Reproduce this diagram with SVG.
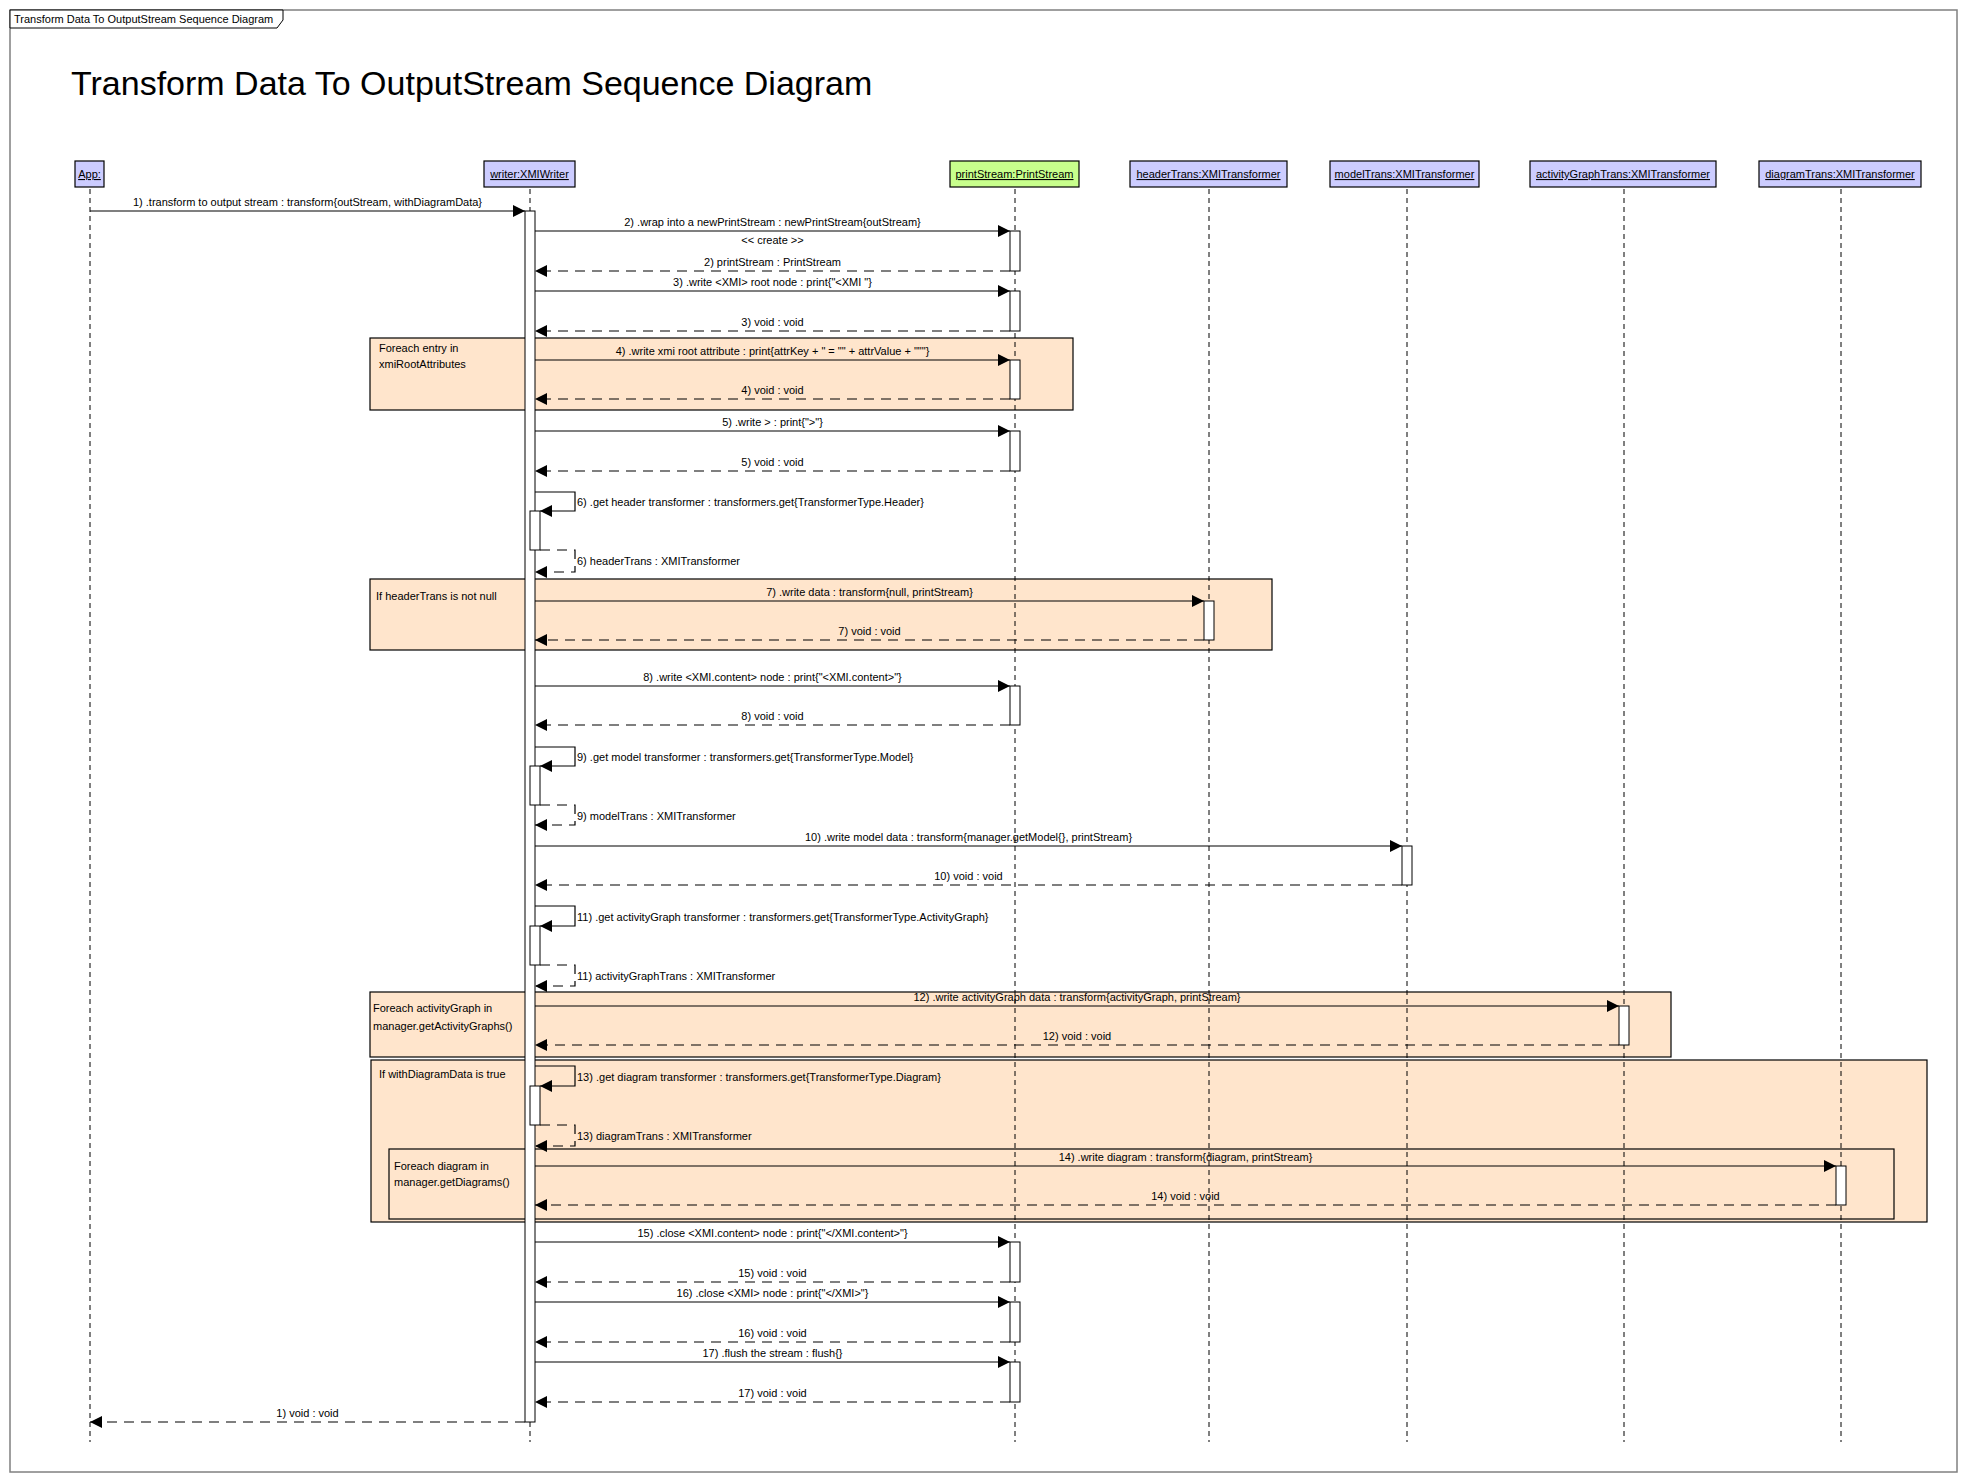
<svg xmlns="http://www.w3.org/2000/svg" width="1968" height="1482" viewBox="0 0 1968 1482">
<style>
text{font-family:"Liberation Sans",Arial,sans-serif;font-size:11px;fill:#000}
.title{font-size:34px}
.hdr{text-anchor:middle;text-decoration:underline}
.mid{text-anchor:middle}
.box{fill:#ccccff;stroke:#000;stroke-width:1.2}
.green{fill:#c8ff8c}
.life{stroke:#000;stroke-width:1;stroke-dasharray:5,4;fill:none}
.act{fill:#fff;stroke:#000;stroke-width:1}
.frag{fill:#ffe5cc;stroke:#000;stroke-width:1.2}
.msg{stroke:#000;stroke-width:1.2;fill:none;marker-end:url(#ah)}
.ret{stroke:#000;stroke-width:1.2;fill:none;stroke-dasharray:10,7;marker-end:url(#ah)}
</style>
<defs>
<marker id="ah" markerUnits="userSpaceOnUse" markerWidth="12" markerHeight="12" refX="12" refY="6" orient="auto">
<path d="M0,0 L12,6 L0,12 Z" fill="#000" stroke="none"/>
</marker>
</defs>
<rect width="1968" height="1482" fill="#fff"/>
<g id="frame">
<rect x="10" y="10" width="1947" height="1462" fill="none" stroke="#808080" stroke-width="1.5"/>
<path d="M10,10 H283 V20 L277,28 H10 Z" fill="#fff" stroke="#000" stroke-width="1"/>
<text x="14" y="23">Transform Data To OutputStream Sequence Diagram</text>
<text class="title" x="71" y="95">Transform Data To OutputStream Sequence Diagram</text>
</g>
<g id="fragments">
<g id="frag-foreach-attr"><rect class="frag" x="370" y="338" width="703" height="72"/><text x="379" y="352">Foreach entry in</text><text x="379" y="368">xmiRootAttributes</text></g>
<g id="frag-if-header"><rect class="frag" x="370" y="579" width="902" height="71"/><text x="376" y="600">If headerTrans is not null</text></g>
<g id="frag-foreach-activity"><rect class="frag" x="370" y="992" width="1301" height="65"/><text x="373" y="1012">Foreach activityGraph in</text><text x="373" y="1030">manager.getActivityGraphs()</text></g>
<g id="frag-if-diagram"><rect class="frag" x="371" y="1060" width="1556" height="162"/><text x="379" y="1078">If withDiagramData is true</text></g>
<g id="frag-foreach-diagram"><rect class="frag" x="389" y="1149" width="1505" height="70"/><text x="394" y="1170">Foreach diagram in</text><text x="394" y="1186">manager.getDiagrams()</text></g>
</g>
<g id="app">
<rect class="box" x="75" y="161" width="29" height="26"/><text class="hdr" x="89.5" y="178">App:</text>
<line class="life" x1="90" y1="189" x2="90" y2="1442"/>
</g>
<g id="writer">
<rect class="box" x="484" y="161" width="91" height="26"/><text class="hdr" x="529.5" y="178">writer:XMIWriter</text>
<line class="life" x1="530" y1="189" x2="530" y2="1442"/>
<rect class="act" x="525" y="211" width="10" height="1211"/>
<rect class="act" x="530" y="511" width="10" height="39"/>
<rect class="act" x="530" y="766" width="10" height="39"/>
<rect class="act" x="530" y="926" width="10" height="39"/>
<rect class="act" x="530" y="1086" width="10" height="39"/>
</g>
<g id="printStream">
<rect class="box green" x="950" y="161" width="129" height="26"/><text class="hdr" x="1014.5" y="178">printStream:PrintStream</text>
<line class="life" x1="1015" y1="189" x2="1015" y2="1442"/>
<rect class="act" x="1010" y="231" width="10" height="40"/>
<rect class="act" x="1010" y="291" width="10" height="40"/>
<rect class="act" x="1010" y="360" width="10" height="39"/>
<rect class="act" x="1010" y="431" width="10" height="40"/>
<rect class="act" x="1010" y="686" width="10" height="39"/>
<rect class="act" x="1010" y="1242" width="10" height="40"/>
<rect class="act" x="1010" y="1302" width="10" height="40"/>
<rect class="act" x="1010" y="1362" width="10" height="40"/>
</g>
<g id="headerTrans">
<rect class="box" x="1130" y="161" width="157" height="26"/><text class="hdr" x="1208.5" y="178">headerTrans:XMITransformer</text>
<line class="life" x1="1209" y1="189" x2="1209" y2="1442"/>
<rect class="act" x="1204" y="601" width="10" height="39"/>
</g>
<g id="modelTrans">
<rect class="box" x="1330" y="161" width="149" height="26"/><text class="hdr" x="1404.5" y="178">modelTrans:XMITransformer</text>
<line class="life" x1="1407" y1="189" x2="1407" y2="1442"/>
<rect class="act" x="1402" y="846" width="10" height="39"/>
</g>
<g id="activityGraphTrans">
<rect class="box" x="1530" y="161" width="186" height="26"/><text class="hdr" x="1623" y="178">activityGraphTrans:XMITransformer</text>
<line class="life" x1="1624" y1="189" x2="1624" y2="1442"/>
<rect class="act" x="1619" y="1006" width="10" height="39"/>
</g>
<g id="diagramTrans">
<rect class="box" x="1759" y="161" width="162" height="26"/><text class="hdr" x="1840" y="178">diagramTrans:XMITransformer</text>
<line class="life" x1="1841" y1="189" x2="1841" y2="1442"/>
<rect class="act" x="1836" y="1166" width="10" height="39"/>
</g>
<g id="connectors">
<line class="msg" x1="90" y1="211" x2="525" y2="211"/><text class="mid" x="307.5" y="206">1) .transform to output stream : transform{outStream, withDiagramData}</text>
<line class="msg" x1="535" y1="231" x2="1010" y2="231"/><text class="mid" x="772.5" y="226">2) .wrap into a newPrintStream : newPrintStream{outStream}</text>
<text class="mid" x="772.5" y="244">&lt;&lt; create &gt;&gt;</text>
<line class="ret" x1="1010" y1="271" x2="535" y2="271"/><text class="mid" x="772.5" y="266">2) printStream : PrintStream</text>
<line class="msg" x1="535" y1="291" x2="1010" y2="291"/><text class="mid" x="772.5" y="286">3) .write &lt;XMI&gt; root node : print{"&lt;XMI "}</text>
<line class="ret" x1="1010" y1="331" x2="535" y2="331"/><text class="mid" x="772.5" y="326">3) void : void</text>
<line class="msg" x1="535" y1="360" x2="1010" y2="360"/><text class="mid" x="772.5" y="355">4) .write xmi root attribute : print{attrKey + " = "" + attrValue + """}</text>
<line class="ret" x1="1010" y1="399" x2="535" y2="399"/><text class="mid" x="772.5" y="394">4) void : void</text>
<line class="msg" x1="535" y1="431" x2="1010" y2="431"/><text class="mid" x="772.5" y="426">5) .write &gt; : print{"&gt;"}</text>
<line class="ret" x1="1010" y1="471" x2="535" y2="471"/><text class="mid" x="772.5" y="466">5) void : void</text>
<path class="msg" d="M535,492 H575 V511 H540"/><text x="577" y="506">6) .get header transformer : transformers.get{TransformerType.Header}</text>
<path class="ret" d="M540,550 H575 V572 H535"/><text x="577" y="565">6) headerTrans : XMITransformer</text>
<line class="msg" x1="535" y1="601" x2="1204" y2="601"/><text class="mid" x="869.5" y="596">7) .write data : transform{null, printStream}</text>
<line class="ret" x1="1204" y1="640" x2="535" y2="640"/><text class="mid" x="869.5" y="635">7) void : void</text>
<line class="msg" x1="535" y1="686" x2="1010" y2="686"/><text class="mid" x="772.5" y="681">8) .write &lt;XMI.content&gt; node : print{"&lt;XMI.content&gt;"}</text>
<line class="ret" x1="1010" y1="725" x2="535" y2="725"/><text class="mid" x="772.5" y="720">8) void : void</text>
<path class="msg" d="M535,747 H575 V766 H540"/><text x="577" y="761">9) .get model transformer : transformers.get{TransformerType.Model}</text>
<path class="ret" d="M540,805 H575 V825 H535"/><text x="577" y="820">9) modelTrans : XMITransformer</text>
<line class="msg" x1="535" y1="846" x2="1402" y2="846"/><text class="mid" x="968.5" y="841">10) .write model data : transform{manager.getModel{}, printStream}</text>
<line class="ret" x1="1402" y1="885" x2="535" y2="885"/><text class="mid" x="968.5" y="880">10) void : void</text>
<path class="msg" d="M535,906 H575 V926 H540"/><text x="577" y="921">11) .get activityGraph transformer : transformers.get{TransformerType.ActivityGraph}</text>
<path class="ret" d="M540,965 H575 V986 H535"/><text x="577" y="980">11) activityGraphTrans : XMITransformer</text>
<line class="msg" x1="535" y1="1006" x2="1619" y2="1006"/><text class="mid" x="1077" y="1001">12) .write activityGraph data : transform{activityGraph, printStream}</text>
<line class="ret" x1="1619" y1="1045" x2="535" y2="1045"/><text class="mid" x="1077" y="1040">12) void : void</text>
<path class="msg" d="M535,1066 H575 V1086 H540"/><text x="577" y="1081">13) .get diagram transformer : transformers.get{TransformerType.Diagram}</text>
<path class="ret" d="M540,1125 H575 V1146 H535"/><text x="577" y="1140">13) diagramTrans : XMITransformer</text>
<line class="msg" x1="535" y1="1166" x2="1836" y2="1166"/><text class="mid" x="1185.5" y="1161">14) .write diagram : transform{diagram, printStream}</text>
<line class="ret" x1="1836" y1="1205" x2="535" y2="1205"/><text class="mid" x="1185.5" y="1200">14) void : void</text>
<line class="msg" x1="535" y1="1242" x2="1010" y2="1242"/><text class="mid" x="772.5" y="1237">15) .close &lt;XMI.content&gt; node : print{"&lt;/XMI.content&gt;"}</text>
<line class="ret" x1="1010" y1="1282" x2="535" y2="1282"/><text class="mid" x="772.5" y="1277">15) void : void</text>
<line class="msg" x1="535" y1="1302" x2="1010" y2="1302"/><text class="mid" x="772.5" y="1297">16) .close &lt;XMI&gt; node : print{"&lt;/XMI&gt;"}</text>
<line class="ret" x1="1010" y1="1342" x2="535" y2="1342"/><text class="mid" x="772.5" y="1337">16) void : void</text>
<line class="msg" x1="535" y1="1362" x2="1010" y2="1362"/><text class="mid" x="772.5" y="1357">17) .flush the stream : flush{}</text>
<line class="ret" x1="1010" y1="1402" x2="535" y2="1402"/><text class="mid" x="772.5" y="1397">17) void : void</text>
<line class="ret" x1="525" y1="1422" x2="90" y2="1422"/><text class="mid" x="307.5" y="1417">1) void : void</text>
</g>
</svg>
